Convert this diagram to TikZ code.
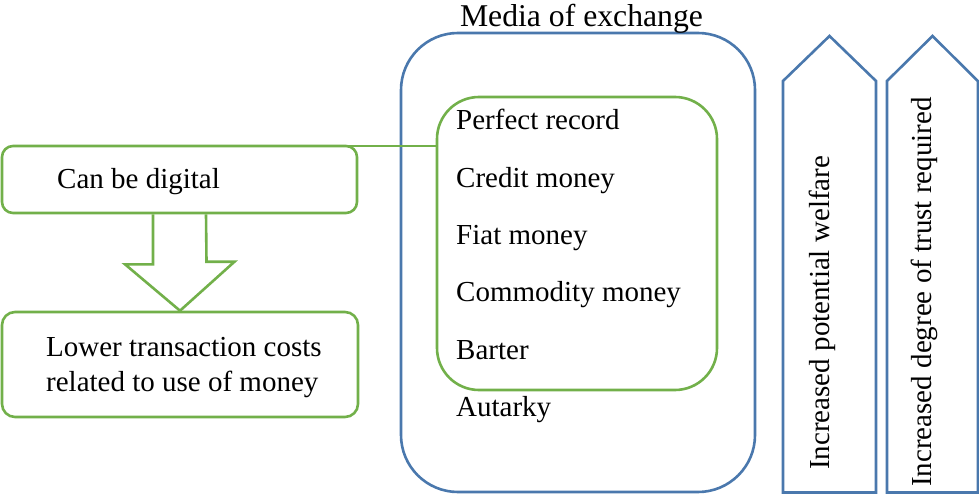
\documentclass[tikz,border=0pt]{standalone}
\usepackage{fontspec}
\setmainfont{Liberation Serif}
\usetikzlibrary{calc}
\definecolor{frameblue}{HTML}{4A78AD}
\definecolor{framegreen}{HTML}{72B04A}
\begin{document}
\begin{tikzpicture}[x=1pt,y=-1pt,
  greenbox/.style={draw=framegreen, line width=2.6pt},
  lbl/.style={inner sep=0pt, anchor=base west, font=\fontsize{29}{35}\selectfont},
  bluearrow/.style={draw=frameblue, line width=2.6pt, line join=miter},
  greenarrow/.style={draw=framegreen, line width=2.6pt, line join=miter}]
\useasboundingbox (0,0) rectangle (979,494);
% outer blue box
\node[draw=frameblue, line width=2.6pt, rounded corners=57pt, minimum width=354pt, minimum height=459pt, inner sep=0pt] (outer) at (578,262.5) {};
% inner green box
\node[greenbox, rounded corners=42pt, minimum width=280pt, minimum height=293pt, inner sep=0pt] (inner) at (577,243.5) {};
% left boxes
\node[greenbox, rounded corners=11pt, minimum width=355pt, minimum height=67pt, inner sep=0pt] (cbd) at (179.5,179.5) {};
\node[greenbox, rounded corners=13pt, minimum width=356pt, minimum height=105pt, inner sep=0pt] (ltc) at (180,364.5) {};
% connector from top of cbd to inner box
\coordinate (cstart) at (340,146);
\draw[greenbox] (cstart) -- (cstart -| inner.west);
% block arrow down
\draw[greenarrow] ($(cbd.south)+(-26.5,0)$) -- ++(0,50) -- ++(-28,0) -- (ltc.north) -- ++(54.5,-49) -- ++(-28,0) -- ($(cbd.south)+(26.5,0)$);
% texts
\node[inner sep=0pt, anchor=base, font=\fontsize{31.7}{38}\selectfont] (title) at (581.5,27) {Media of exchange};
\node[lbl] (t1) at (456,129.5) {Perfect record};
\node[lbl] (t2) at (456,187.7) {Credit money};
\node[lbl] (t3) at (456,245) {Fiat money};
\node[lbl] (t4) at (456,301.7) {Commodity money};
\node[lbl] (t5) at (456,359) {Barter};
\node[lbl] (t6) at (456,416.7) {Autarky};
\node[lbl] (tcbd) at (57,189) {Can be digital};
\node[lbl] (tltc1) at (46,356.7) {Lower transaction costs};
\node[lbl] (tltc2) at (46,391.7) {related to use of money};
% right pentagon arrows
\draw[bluearrow] (783,492.5) -- (783,81) -- (829.5,36) -- (876,81) -- (876,492.5) -- cycle;
\draw[bluearrow] (887,492.5) -- (887,81) -- (932.5,36) -- (977.8,81) -- (977.8,492.5) -- cycle;
\node[lbl, rotate=90] (w1) at (829.3,470) {Increased potential welfare};
\node[lbl, rotate=90] (w2) at (931,487) {Increased degree of trust required};
\end{tikzpicture}
\end{document}
